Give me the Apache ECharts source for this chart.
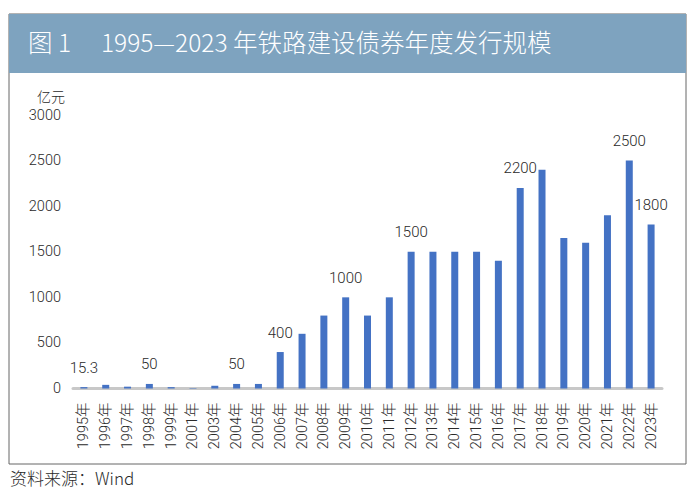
<!DOCTYPE html>
<html>
<head>
<meta charset="utf-8">
<script src="https://cdn.jsdelivr.net/npm/echarts@6/dist/echarts.min.js"></script>
<style>
  html, body { margin: 0; padding: 0; background: #fff; }
  #chart { width: 700px; height: 504px; }
</style>
</head>
<body>
<div id="chart"></div>
<script>
const years = [
  '1995年', '1996年', '1997年', '1998年', '1999年', '2001年', '2003年', '2004年', '2005年',
  '2006年', '2007年', '2008年', '2009年', '2010年', '2011年', '2012年', '2013年', '2014年',
  '2015年', '2016年', '2017年', '2018年', '2019年', '2020年', '2021年', '2022年', '2023年',
];
const issuance = [
  15.3, 40, 20, 50, 15, 5, 30, 50, 50,
  400, 600, 800, 1000, 800, 1000, 1500, 1500, 1500,
  1500, 1400, 2200, 2400, 1650, 1600, 1900, 2500, 1800,
];
const labelledYears = ['1995年', '1998年', '2004年', '2006年', '2009年', '2012年', '2017年', '2022年', '2023年'];
const yTicks = [0, 500, 1000, 1500, 2000, 2500, 3000];

const font = 'Roboto, "Noto Sans CJK SC", sans-serif';
const cjk = '"Noto Sans CJK SC", Roboto, sans-serif';
const text = '#2a2a2a';

const chart = echarts.init(document.getElementById('chart'), null, { renderer: 'svg' });

chart.setOption({
  backgroundColor: '#fff',
  animation: false,
  graphic: [
    {
      type: 'rect',
      shape: { x: 9, y: 14, width: 677, height: 450 },
      style: { fill: '#fff', stroke: '#666', lineWidth: 1 },
      z: -10,
    },
    {
      type: 'rect',
      shape: { x: 9, y: 14, width: 677, height: 59 },
      style: { fill: '#7ea3bf' },
      z: -5,
    },
    {
      type: 'text',
      left: 28,
      top: 29,
      style: {
        text: '图 1\u3000 1995—2023 年铁路建设债券年度发行规模',
        fill: '#fff',
        font: '300 24.5px ' + cjk,
      },
    },
    {
      type: 'text',
      left: 37,
      top: 89,
      style: { text: '亿元', fill: text, font: '300 14px ' + cjk },
    },
    {
      type: 'text',
      left: 10,
      top: 469,
      style: { text: '资料来源：Wind', fill: text, font: '300 17px ' + cjk },
    },
  ],
  grid: { left: 73, right: 38, top: 115, bottom: 115.5 },
  xAxis: {
    type: 'category',
    data: years,
    axisLine: { lineStyle: { color: '#c8c8c8', width: 3 } },
    axisTick: { show: false },
    axisLabel: {
      rotate: 90,
      interval: 0,
      margin: 14,
      color: text,
      fontSize: 14.5,
      fontWeight: 300,
      fontFamily: font,
    },
  },
  yAxis: {
    type: 'value',
    min: 0,
    max: yTicks[yTicks.length - 1],
    interval: yTicks[1] - yTicks[0],
    axisLine: { show: false },
    axisTick: { show: false },
    splitLine: { show: false },
    axisLabel: {
      color: text,
      fontSize: 14.5,
      fontWeight: 300,
      fontFamily: font,
      margin: 12,
      formatter: (v) => String(v),
    },
  },
  series: [{
    type: 'bar',
    barWidth: 7,
    itemStyle: { color: '#4472c4' },
    data: issuance.map((value, i) => ({
      value,
      label: { show: labelledYears.includes(years[i]) },
    })),
    label: {
      position: 'top',
      distance: 12,
      color: text,
      fontSize: 15,
      fontWeight: 300,
      fontFamily: font,
    },
  }],
});
</script>
</body>
</html>
